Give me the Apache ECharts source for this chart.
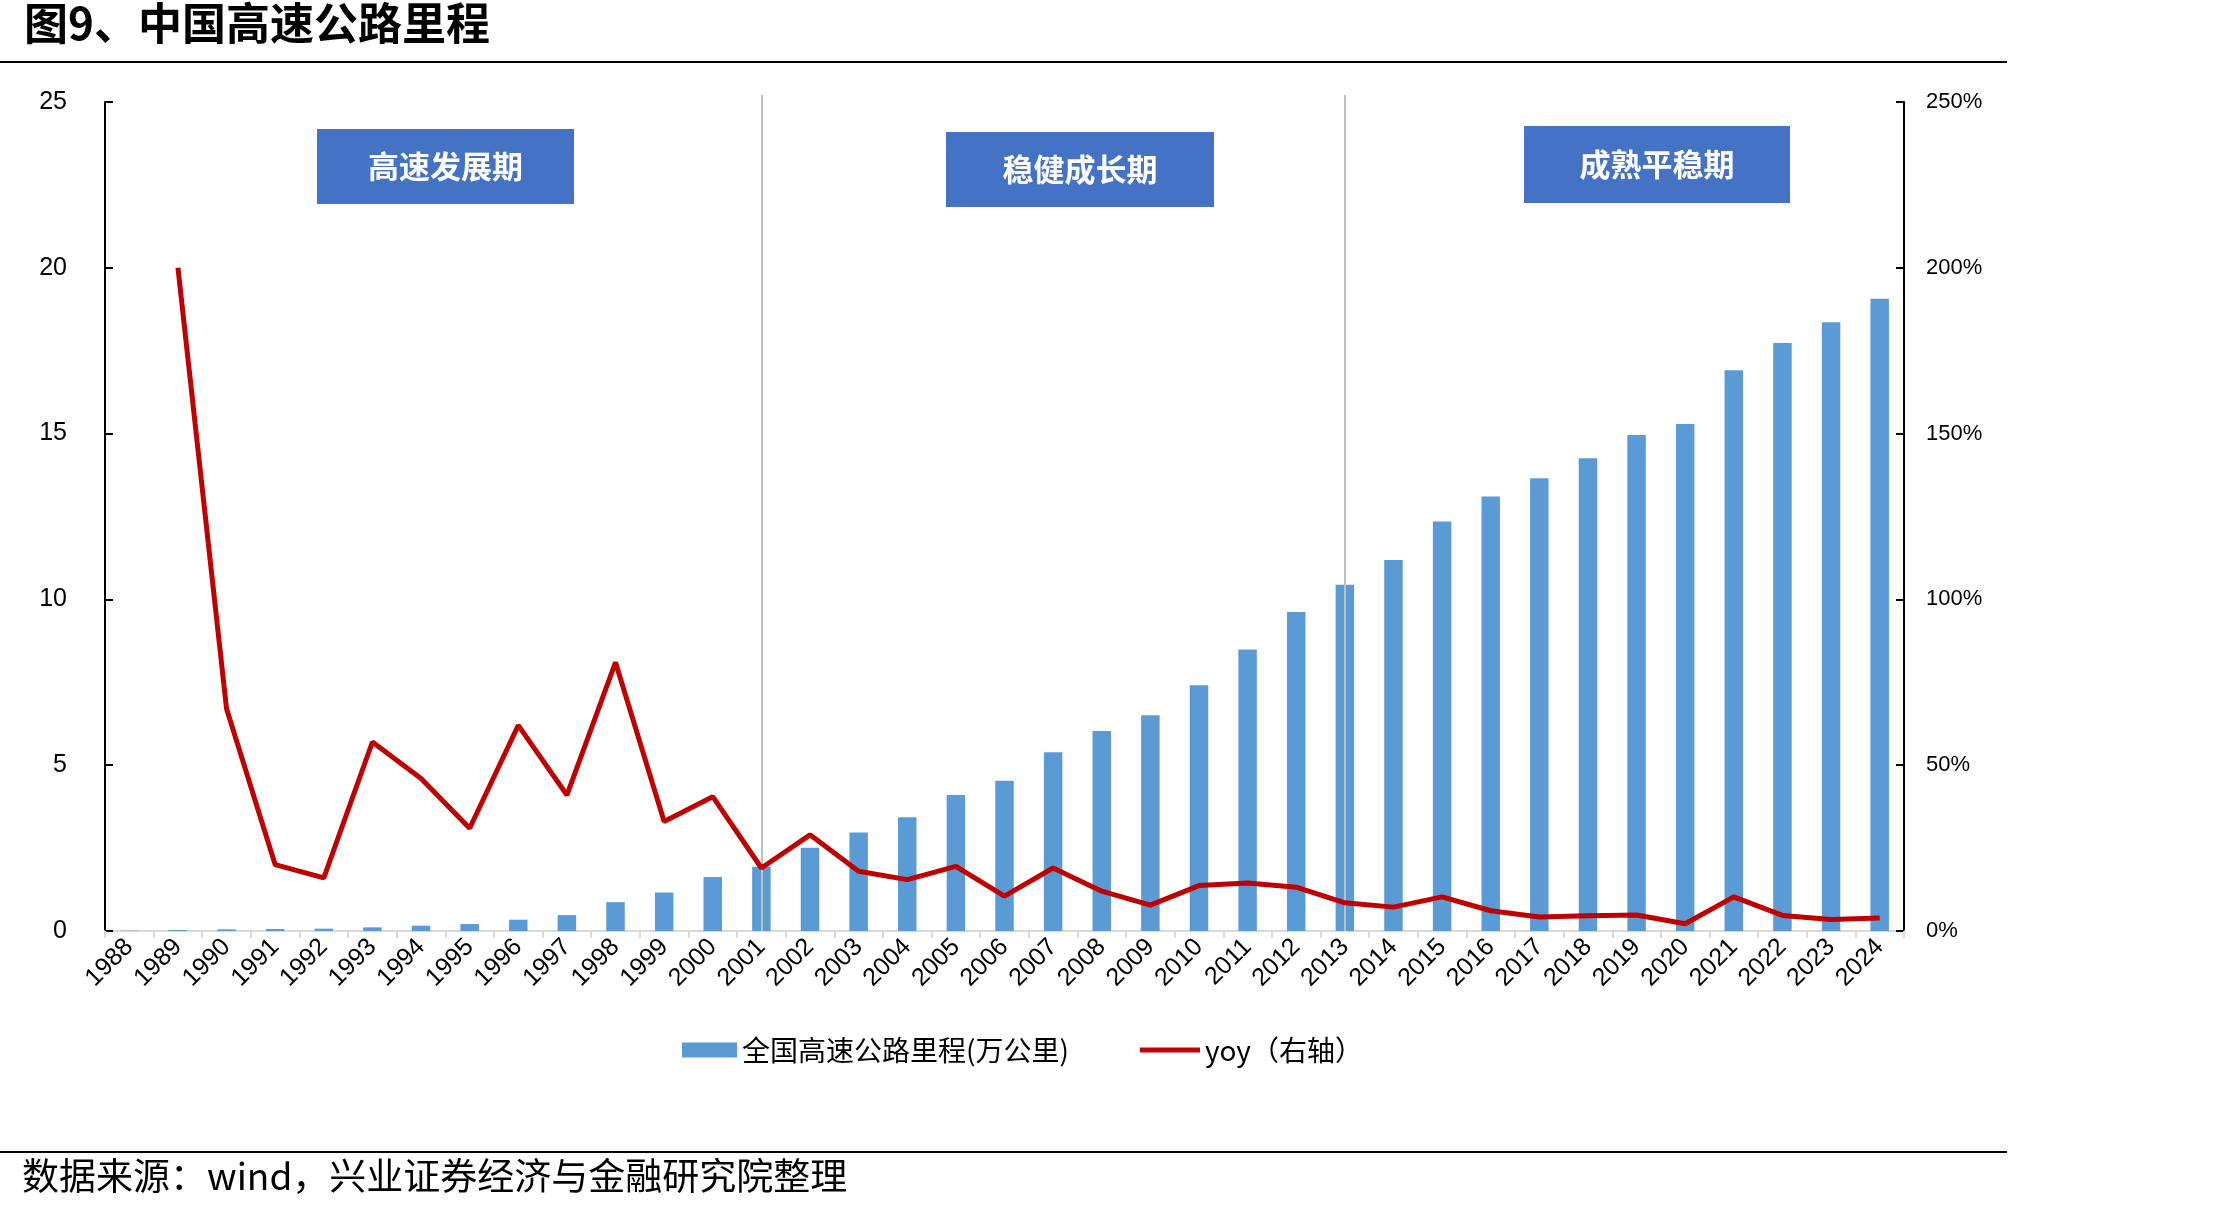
<!DOCTYPE html>
<html>
<head>
<meta charset="utf-8">
<script src="https://cdn.jsdelivr.net/npm/echarts@6/dist/echarts.min.js"></script>
<style>
html,body{margin:0;padding:0;background:#fff;}
#c{width:2221px;height:1213px;}
</style>
</head>
<body>
<div id="c"></div>
<script>
const years = ['1988','1989','1990','1991','1992','1993','1994','1995','1996','1997','1998','1999','2000','2001','2002','2003','2004','2005','2006','2007','2008','2009','2010','2011','2012','2013','2014','2015','2016','2017','2018','2019','2020','2021','2022','2023','2024'];
const mileage = [0.01,0.03,0.05,0.06,0.07,0.11,0.16,0.21,0.34,0.48,0.87,1.16,1.63,1.94,2.51,2.97,3.43,4.10,4.53,5.39,6.03,6.51,7.41,8.49,9.62,10.44,11.19,12.35,13.10,13.65,14.26,14.96,15.29,16.91,17.73,18.36,19.07];
const yoy = [null,2.00,0.67,0.20,0.16,0.57,0.46,0.31,0.62,0.41,0.81,0.33,0.405,0.19,0.29,0.18,0.155,0.195,0.105,0.19,0.12,0.078,0.137,0.145,0.132,0.085,0.072,0.103,0.061,0.042,0.046,0.048,0.022,0.103,0.047,0.035,0.039];
const phaseLines = ['2001','2013'];
const phases = ['高速发展期','稳健成长期','成熟平稳期'];
const leftTicks = {min:0,max:25,interval:5};
const rightTicks = {min:0,max:2.5,interval:0.5};
const barName = '全国高速公路里程(万公里)';
const lineName = 'yoy（右轴）';

const chart = echarts.init(document.getElementById('c'), null, {renderer:'canvas'});
const boxes = [[317,129,257,75],[946,132,268,75],[1524,126,266,77]];
const cjk = '"Noto Sans CJK SC", sans-serif';
const graphics = [
  {type:'text', left:24, top:1, style:{text:'图9、中国高速公路里程', fontSize:44, fontWeight:'bold', fill:'#000', fontFamily:cjk}},
  {type:'rect', shape:{x:0,y:61,width:2007,height:2}, style:{fill:'#000'}},
  {type:'rect', shape:{x:0,y:1151,width:2007,height:2}, style:{fill:'#000'}},
  {type:'text', left:22, top:1157, style:{text:'数据来源：wind，兴业证券经济与金融研究院整理', fontSize:37, fill:'#000', fontFamily:cjk}}
];
phases.forEach((p,i)=>{
  const b = boxes[i];
  graphics.push({type:'rect', z:10, shape:{x:b[0],y:b[1],width:b[2],height:b[3]}, style:{fill:'#4472C4'}});
  graphics.push({type:'text', z:11, x:b[0]+b[2]/2, y:b[1]+b[3]/2, style:{text:p, fill:'#fff', fontSize:31, fontWeight:'bold', align:'center', verticalAlign:'middle', fontFamily:cjk}});
});

chart.setOption({
  animation:false,
  backgroundColor:'#fff',
  grid:{left:105, right:317, top:102, bottom:282, containLabel:false},
  legend:[
    {left:677, top:1031, itemWidth:55, itemHeight:15, itemGap:8,
     textStyle:{fontSize:28, color:'#000', fontFamily:cjk},
     data:[{name:barName, icon:'rect'}]},
    {left:1135, top:1031, itemWidth:60, itemHeight:5, itemGap:8,
     textStyle:{fontSize:28, color:'#000', fontFamily:cjk},
     data:[{name:lineName, icon:'rect'}]}
  ],
  xAxis:{
    type:'category', data:years, boundaryGap:true,
    axisLine:{lineStyle:{color:'#D9D9D9', width:2}},
    axisTick:{show:true, alignWithLabel:false, length:7, lineStyle:{color:'#D9D9D9', width:2}},
    axisLabel:{rotate:45, interval:0, margin:12, fontSize:25, color:'#000', fontFamily:'Arial, "Liberation Sans", sans-serif'},
    splitLine:{show:false}
  },
  yAxis:[
    {type:'value', min:leftTicks.min, max:leftTicks.max, interval:leftTicks.interval,
     axisLine:{show:true, lineStyle:{color:'#000', width:2}},
     axisTick:{show:true, inside:true, length:8, lineStyle:{color:'#000', width:2}},
     axisLabel:{margin:38, fontSize:25, color:'#000', fontFamily:'"Liberation Sans Narrow", "Arial Narrow", sans-serif'},
     splitLine:{show:false}},
    {type:'value', min:rightTicks.min, max:rightTicks.max, interval:rightTicks.interval, position:'right',
     axisLine:{show:true, lineStyle:{color:'#000', width:2}},
     axisTick:{show:true, inside:true, length:8, lineStyle:{color:'#000', width:2}},
     axisLabel:{margin:22, fontSize:22, color:'#000', fontFamily:'Arial, "Liberation Sans", sans-serif',
       formatter:v=>Math.round(v*100)+'%'},
     splitLine:{show:false}}
  ],
  series:[
    {name:barName, type:'bar', data:mileage, barWidth:'38%', yAxisIndex:0,
     itemStyle:{color:'#5B9BD5'},
     markLine:{silent:true, symbol:'none', label:{show:false},
       lineStyle:{color:'#BFBFBF', width:2, type:'solid'},
       data:phaseLines.map(y=>[{xAxis:y, y:95},{xAxis:y, yAxis:0}])}},
    {name:lineName, type:'line', data:yoy, yAxisIndex:1, symbol:'none', showSymbol:false,
     lineStyle:{color:'#C00000', width:5}, itemStyle:{color:'#C00000'}, z:5}
  ],
  graphic:graphics
});
</script>
</body>
</html>
